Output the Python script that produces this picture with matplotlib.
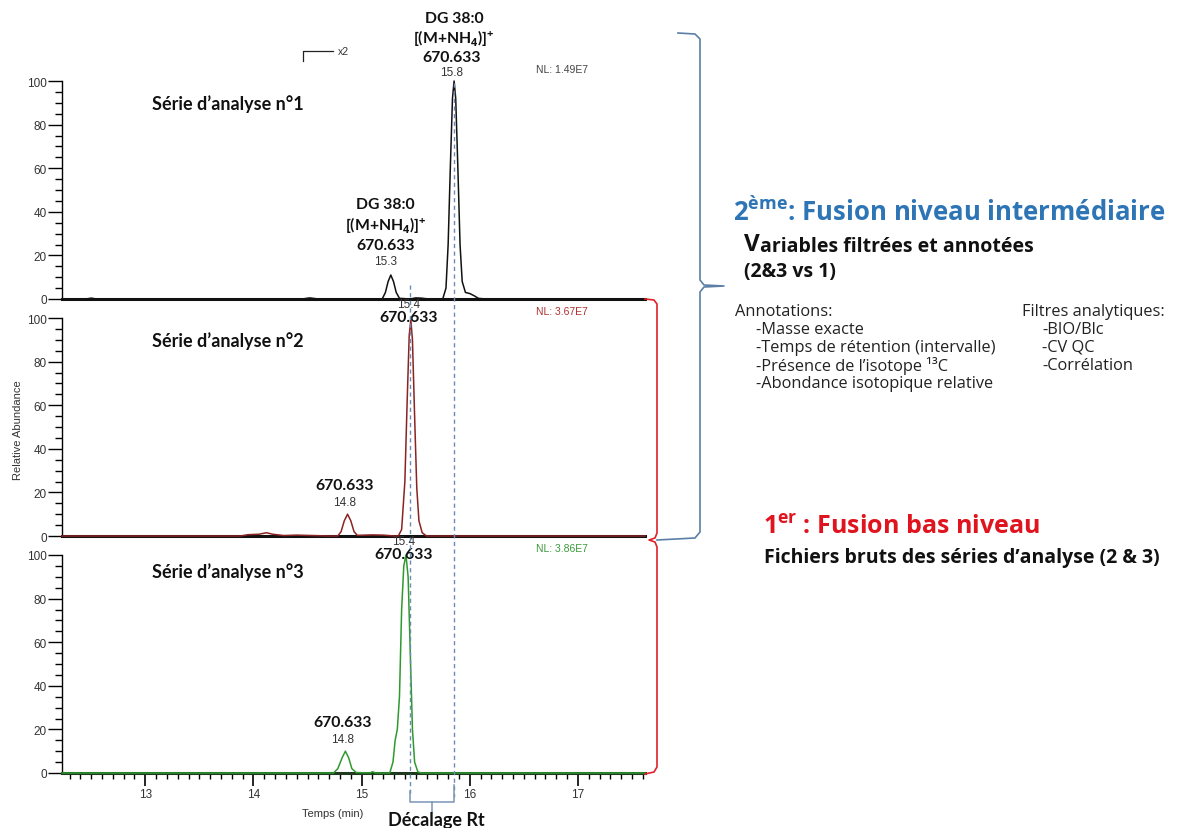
import matplotlib
matplotlib.use("Agg")
import matplotlib.pyplot as plt
import numpy as np
from matplotlib.lines import Line2D
from matplotlib.ticker import MultipleLocator
import matplotlib.transforms as mtransforms

plt.rcParams['font.family'] = ['Liberation Sans', 'DejaVu Sans']
plt.rcParams['mathtext.fontset'] = 'custom'
plt.rcParams['mathtext.rm'] = 'Open Sans'
plt.rcParams['mathtext.bf'] = 'Open Sans:bold'

W, H = 1177, 829

# chromatogram traces (time in min, relative abundance)
t1 = [12.23, 12.45, 12.5, 12.55, 14.45, 14.52, 14.6, 15.19, 15.22, 15.245, 15.27,
      15.295, 15.32, 15.35, 15.45, 15.5, 15.55, 15.62, 15.75, 15.78, 15.80, 15.82,
      15.84, 15.855, 15.87, 15.89, 15.91, 15.93, 15.96, 16.0, 16.04, 16.08, 16.15, 17.62]
i1 = [0, 0, 0.4, 0, 0, 0.5, 0, 0, 3, 8, 11,
      8, 3, 0.3, 0, 0.5, 0.4, 0, 0, 5, 25, 60,
      92, 100, 92, 60, 25, 8, 3, 2.5, 1.5, 0.3, 0, 0]

t2 = [12.23, 13.88, 13.95, 14.05, 14.12, 14.18, 14.28, 14.4, 14.55, 14.7, 14.78,
      14.81, 14.84, 14.87, 14.90, 14.93, 14.96, 15.1, 15.2, 15.3, 15.34, 15.37, 15.40,
      15.42, 15.44, 15.455, 15.47, 15.49, 15.51, 15.53, 15.56, 15.6, 17.62]
i2 = [0, 0, 0.6, 0.8, 1.5, 0.8, 0.2, 0.4, 0.2, 0, 0,
      2, 7, 10, 7, 2, 0.3, 0.5, 0.4, 0, 0, 3, 25,
      60, 92, 99, 90, 55, 22, 7, 1.5, 0, 0]

t3 = [12.23, 14.74, 14.78, 14.82, 14.85, 14.88, 14.91, 14.95, 15.08, 15.1, 15.13,
      15.26, 15.29, 15.31, 15.33, 15.35, 15.37, 15.39, 15.41, 15.43, 15.45, 15.47,
      15.49, 15.52, 15.55, 17.62]
i3 = [0, 0, 2, 7, 10, 7, 2, 0.2, 0, 0.6, 0,
      0, 5, 15, 20, 35, 75, 95, 100, 90, 55, 20,
      5, 0.5, 0, 0]

colors = ['#111111', '#8B2323', '#2E9A2E']
nl_labels = ['NL: 1.49E7', 'NL: 3.67E7', 'NL: 3.86E7']
nl_colors = ['#444444', '#B03030', '#3A9A3A']
series_titles = ["Série d’analyse n°1", "Série d’analyse n°2", "Série d’analyse n°3"]
main_rt = [15.8, 15.4, 15.4]
main_x = [15.855, 15.455, 15.41]
small_rt = [15.3, 14.8, 14.8]
small_x = [15.27, 14.87, 14.85]
mz = '670.633'
x_ticks = [13, 14, 15, 16, 17]
y_ticks = [0, 20, 40, 60, 80, 100]


def px(x, y):
    return x / W, 1 - y / H


fig = plt.figure(figsize=(W / 100, H / 100), dpi=100)

# axes placement (pixels): left 62, right 645; baselines at 300, 537, 774
bottoms = [300, 537, 774]
axes = []
for k, yb in enumerate(bottoms):
    ax = fig.add_axes([62 / W, 1 - yb / H, (645 - 62) / W, 218 / H])
    axes.append(ax)

traces = [(t1, i1), (t2, i2), (t3, i3)]
for k, ax in enumerate(axes):
    t, it = traces[k]
    ax.plot(t, it, color=colors[k], lw=1.1, clip_on=False, zorder=3)
    ax.set_xlim(12.23, 17.62)
    ax.set_ylim(0, 100)
    for s in ['top', 'right']:
        ax.spines[s].set_visible(False)
    ax.spines['left'].set_linewidth(1.0)
    ax.spines['bottom'].set_linewidth(2.2)
    ax.spines['bottom'].set_color('#111111' if k < 2 else '#1f3a1f')
    ax.set_yticks(y_ticks)
    ax.yaxis.set_minor_locator(MultipleLocator(5))
    ax.tick_params(axis='y', which='major', length=10, width=1, labelsize=8.5,
                   labelcolor='#333333', pad=1)
    ax.tick_params(axis='y', which='minor', length=5, width=1)
    if k < 2:
        ax.set_xticks([])
        ax.tick_params(axis='x', which='both', length=0)
    else:
        ax.set_xticks(x_ticks)
        ax.xaxis.set_minor_locator(MultipleLocator(0.1))
        ax.tick_params(axis='x', which='major', length=9, width=1.2, labelsize=8.5,
                       labelcolor='#333333', pad=2)
        ax.tick_params(axis='x', which='minor', length=4, width=1)
    ax.text(13.06, 90 if k < 2 else 92.5, series_titles[k], fontsize=13,
            fontweight='bold', family='Lato', color='#111111', va='center')
    ax.text(16.85, 105.5 if k == 0 else 103, nl_labels[k], fontsize=7.5,
            color=nl_colors[k], ha='center', va='center', clip_on=False)

# peak labels, top panel
a1 = axes[0]
bold = dict(fontweight='bold', family='Lato', fontsize=11.3, color='#111111',
            ha='center', va='center', clip_on=False)
norm = dict(fontsize=8.5, color='#333333', ha='center', va='center', clip_on=False)
ion = r'[(M+NH$_{\mathbf{4}}$)]$^{\mathbf{+}}$'
a1.text(main_x[0] - 0.0, 129, 'DG 38:0', **bold)
a1.text(main_x[0] - 0.0, 120, ion, **bold)
a1.text(main_x[0] - 0.02, 111, mz, **bold)
a1.text(main_x[0] - 0.02, 104, f'{main_rt[0]}', **norm)
a1.text(small_x[0] - 0.05, 43.5, 'DG 38:0', **bold)
a1.text(small_x[0] - 0.05, 34, ion, **bold)
a1.text(small_x[0] - 0.05, 25, mz, **bold)
a1.text(small_x[0] - 0.05, 17.4, f'{small_rt[0]}', **norm)

for k in [1, 2]:
    ax = axes[k]
    ax.text(main_x[k] - 0.02, 106.5, f'{main_rt[k]}', **norm)
    ax.text(main_x[k] - 0.02, 100.5, mz, **bold)
    ax.text(small_x[k] - 0.03, 23.5, mz, **bold)
    ax.text(small_x[k] - 0.03, 15.7, f'{small_rt[k]}', **norm)

# "x2" zoom marker
bt = mtransforms.blended_transform_factory(a1.transData, fig.transFigure)
fig.add_artist(Line2D([14.46, 14.46, 14.74], [1 - 62 / H, 1 - 52 / H, 1 - 52 / H],
                      transform=bt, color='#222222', lw=0.9))
fig.text(*px(338, 52), 'x2', fontsize=7.5, color='#333333', va='center')

# axis titles
fig.text(*px(18, 430), 'Relative Abundance', rotation=90, fontsize=8,
         color='#333333', ha='center', va='center')
fig.text(*px(333, 814), 'Temps (min)', fontsize=8, color='#333333',
         ha='center', va='center')

# retention time shift guides
bt3 = mtransforms.blended_transform_factory(axes[2].transData, fig.transFigure)
dash_col = '#6A8CB4'
fig.add_artist(Line2D([15.45, 15.45], [1 - 286 / H, 1 - 798 / H], transform=bt3,
                      color=dash_col, lw=1, ls=(0, (3, 2.5))))
fig.add_artist(Line2D([15.855, 15.855], [1 - 84 / H, 1 - 798 / H], transform=bt3,
                      color=dash_col, lw=1, ls=(0, (3, 2.5))))
brk = '#7A95B8'
fig.add_artist(Line2D([15.45, 15.45, 15.855, 15.855],
                      [1 - 792 / H, 1 - 803 / H, 1 - 803 / H, 1 - 786 / H],
                      transform=bt3, color=brk, lw=1.1))
fig.add_artist(Line2D([15.65, 15.65], [1 - 803 / H, 1 - 813 / H], transform=bt3,
                      color=brk, lw=1.1))
fig.text(*px(436, 821), 'Décalage Rt', family='Lato', fontweight='bold',
         fontsize=13, color='#111111', ha='center', va='center')

# braces
blue_brace = [(678, 34), (695, 35), (700, 40), (700, 281), (704, 286), (724, 287),
              (704, 288), (700, 293), (700, 533), (695, 539), (657, 541)]
red_brace = [(645, 300), (654, 301), (657, 305), (657, 534), (655, 539), (649, 541),
             (655, 543), (657, 548), (657, 768), (654, 773), (645, 775)]
for pts, c in [(blue_brace, '#5B7FA6'), (red_brace, '#E0202A')]:
    xs = [p[0] / W for p in pts]
    ys = [1 - p[1] / H for p in pts]
    fig.add_artist(Line2D(xs, ys, transform=fig.transFigure, color=c, lw=1.2))

# right-hand text block
fig.text(*px(733, 212), r'2$^{\mathbf{ème}}$: Fusion niveau intermédiaire',
         family='Open Sans', fontweight='bold', fontsize=18.5, color='#2E75B6',
         va='center')
fig.text(*px(744, 245), r'V', family='Open Sans', fontweight='bold', fontsize=17.5,
         color='#111111', va='center')
fig.text(*px(760, 247), 'ariables filtrées et annotées', family='Open Sans',
         fontweight='bold', fontsize=14, color='#111111', va='center')
fig.text(*px(744, 272), '(2&3 vs 1)', family='Open Sans', fontweight='bold',
         fontsize=14, color='#111111', va='center')

annot_items = ['-Masse exacte', '-Temps de rétention (intervalle)',
               '-Présence de l’isotope ¹³C', '-Abondance isotopique relative']
filter_items = ['-BIO/Blc', '-CV QC', '-Corrélation']
txt = dict(family='Open Sans', fontsize=11.8, color='#222222', va='center')
fig.text(*px(735, 312), 'Annotations:', **txt)
for j, s in enumerate(annot_items):
    fig.text(*px(756, 330 + 18 * j), s, **txt)
fig.text(*px(1022, 312), 'Filtres analytiques:', **txt)
for j, s in enumerate(filter_items):
    fig.text(*px(1042, 330 + 18 * j), s, **txt)

fig.text(*px(763, 527), r'1$^{\mathbf{er}}$ : Fusion bas niveau', family='Open Sans',
         fontweight='bold', fontsize=18, color='#E0141E', va='center')
fig.text(*px(764, 558), 'Fichiers bruts des séries d’analyse (2 & 3)',
         family='Open Sans', fontweight='bold', fontsize=14, color='#111111',
         va='center')

fig.savefig('out.png', dpi=100)
